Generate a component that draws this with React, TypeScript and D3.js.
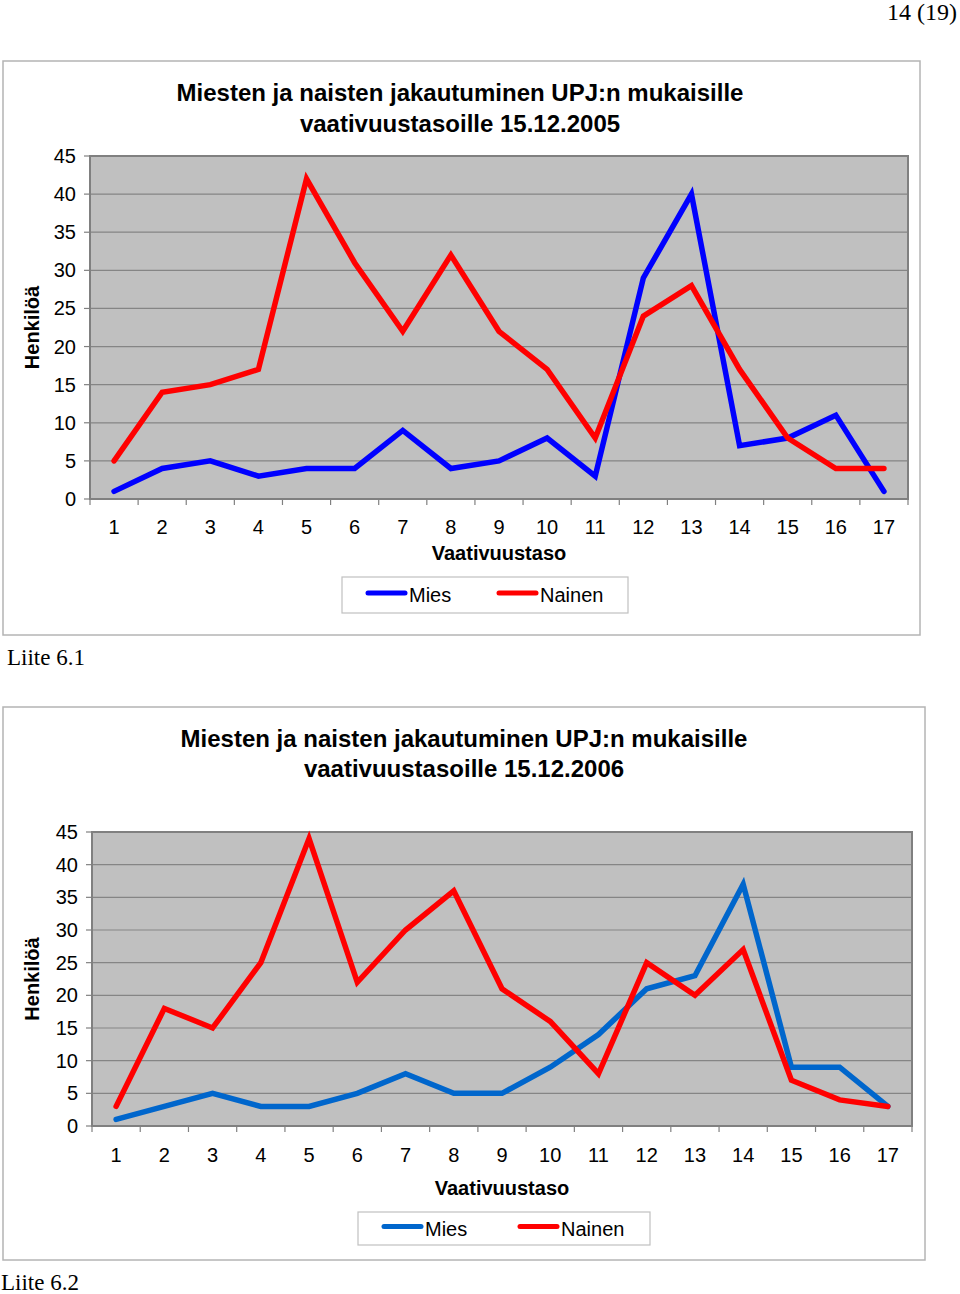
import React from "react";
import * as d3 from "d3";

// vaativuustasot 1..17
const levels = ["1", "2", "3", "4", "5", "6", "7", "8", "9", "10", "11", "12", "13", "14", "15", "16", "17"];
const yTicks = [0, 5, 10, 15, 20, 25, 30, 35, 40, 45];
const seriesNames = ["Mies", "Nainen"];

const mies2005 = [1, 4, 5, 3, 4, 4, 9, 4, 5, 8, 3, 29, 40, 7, 8, 11, 1];
const nainen2005 = [5, 14, 15, 17, 42, 31, 22, 32, 22, 17, 8, 24, 28, 17, 8, 4, 4];

const mies2006 = [1, 3, 5, 3, 3, 5, 8, 5, 5, 9, 14, 21, 23, 37, 9, 9, 3];
const nainen2006 = [3, 18, 15, 25, 44, 22, 30, 36, 21, 16, 8, 25, 20, 27, 7, 4, 3];

const titleLines2005 = ["Miesten ja naisten jakautuminen UPJ:n mukaisille", "vaativuustasoille 15.12.2005"];
const titleLines2006 = ["Miesten ja naisten jakautuminen UPJ:n mukaisille", "vaativuustasoille 15.12.2006"];

const font = "'Liberation Sans', Arial, sans-serif";
const serif = "'Liberation Serif', 'Times New Roman', serif";

type Layout = {
  frame: { x: number; y: number; w: number; h: number };
  plot: { left: number; right: number; top: number; bottom: number };
  titleX: number;
  titleY: number[];
  tickY: number;
  axisTitleY: number;
  legend: { x: number; y: number; w: number; h: number; nainenX: number };
  miesColor: string;
};

const LineChart = ({ mies, nainen, title, layout }: { mies: number[]; nainen: number[]; title: string[]; layout: Layout }) => {
  const { frame, plot, legend } = layout;
  const x = d3.scaleBand().domain(levels).range([plot.left, plot.right]);
  const y = d3.scaleLinear().domain([0, 45]).range([plot.bottom, plot.top]);
  const cx = (i: number) => (x(levels[i]) as number) + x.bandwidth() / 2;
  const line = d3
    .line<number>()
    .x((_, i) => cx(i))
    .y((d) => y(d));
  const colors = [layout.miesColor, "#ff0000"];
  const ly = legend.y + legend.h / 2;

  return (
    <g>
      <rect x={frame.x} y={frame.y} width={frame.w} height={frame.h} fill="#fff" stroke="#b4b4b4" strokeWidth={1.5} />
      {title.map((t, i) => (
        <text key={i} x={layout.titleX} y={layout.titleY[i]} textAnchor="middle" dominantBaseline="central" fontFamily={font} fontWeight="bold" fontSize={24}>
          {t}
        </text>
      ))}
      <rect x={plot.left} y={plot.top} width={plot.right - plot.left} height={plot.bottom - plot.top} fill="#c0c0c0" />
      {yTicks.map((t) => (
        <g key={t}>
          {t > 0 && t < 45 && <line x1={plot.left} x2={plot.right} y1={y(t)} y2={y(t)} stroke="#858585" strokeWidth={1.2} />}
          <line x1={plot.left - 6} x2={plot.left} y1={y(t)} y2={y(t)} stroke="#808080" strokeWidth={1.2} />
          <text x={plot.left - 14} y={y(t)} textAnchor="end" dominantBaseline="central" fontFamily={font} fontSize={20}>
            {t}
          </text>
        </g>
      ))}
      <rect x={plot.left} y={plot.top} width={plot.right - plot.left} height={plot.bottom - plot.top} fill="none" stroke="#808080" strokeWidth={2} />
      {levels.map((l, i) => (
        <g key={l}>
          <line x1={x(l) as number} x2={x(l) as number} y1={plot.bottom} y2={plot.bottom + 6} stroke="#808080" strokeWidth={1.2} />
          <text x={cx(i)} y={layout.tickY} textAnchor="middle" dominantBaseline="central" fontFamily={font} fontSize={20}>
            {l}
          </text>
        </g>
      ))}
      <line x1={plot.right} x2={plot.right} y1={plot.bottom} y2={plot.bottom + 6} stroke="#808080" strokeWidth={1.2} />
      <text x={(plot.left + plot.right) / 2} y={layout.axisTitleY} textAnchor="middle" dominantBaseline="central" fontFamily={font} fontWeight="bold" fontSize={20}>
        Vaativuustaso
      </text>
      <text
        transform={`translate(32,${(plot.top + plot.bottom) / 2}) rotate(-90)`}
        textAnchor="middle"
        dominantBaseline="central"
        fontFamily={font}
        fontWeight="bold"
        fontSize={20}
      >
        Henkilöä
      </text>
      {[mies, nainen].map((s, k) => (
        <path key={k} d={line(s) as string} fill="none" stroke={colors[k]} strokeWidth={5.5} strokeLinejoin="miter" strokeLinecap="round" />
      ))}
      <rect x={legend.x} y={legend.y} width={legend.w} height={legend.h} fill="#fff" stroke="#c0c0c0" strokeWidth={1.2} />
      {seriesNames.map((n, k) => {
        const lx = k === 0 ? legend.x + 26 : legend.nainenX;
        return (
          <g key={n}>
            <line x1={lx} x2={lx + 37} y1={ly - 2} y2={ly - 2} stroke={colors[k]} strokeWidth={5} strokeLinecap="round" />
            <text x={lx + 41} y={ly} dominantBaseline="central" fontFamily={font} fontSize={20}>
              {n}
            </text>
          </g>
        );
      })}
    </g>
  );
};

const layout2005: Layout = {
  frame: { x: 3, y: 61, w: 917, h: 574 },
  plot: { left: 90, right: 908, top: 156, bottom: 499 },
  titleX: 460,
  titleY: [92, 123],
  tickY: 527,
  axisTitleY: 553,
  legend: { x: 342, y: 577, w: 286, h: 36, nainenX: 499 },
  miesColor: "#0000ff",
};

const layout2006: Layout = {
  frame: { x: 3, y: 707, w: 922, h: 553 },
  plot: { left: 92, right: 912, top: 832, bottom: 1126 },
  titleX: 464,
  titleY: [738, 768],
  tickY: 1155,
  axisTitleY: 1188,
  legend: { x: 358, y: 1212, w: 292, h: 33, nainenX: 520 },
  miesColor: "#0066cc",
};

export default function App() {
  return (
    <div style={{ position: "absolute", left: 0, top: 0 }}>
      <svg width={960} height={1294} style={{ display: "block", background: "#fff" }}>
        <text x={957} y={20} textAnchor="end" fontFamily={serif} fontSize={24}>
          14 (19)
        </text>
        <LineChart mies={mies2005} nainen={nainen2005} title={titleLines2005} layout={layout2005} />
        <text x={7} y={665} fontFamily={serif} fontSize={23}>
          Liite 6.1
        </text>
        <LineChart mies={mies2006} nainen={nainen2006} title={titleLines2006} layout={layout2006} />
        <text x={1} y={1290} fontFamily={serif} fontSize={23}>
          Liite 6.2
        </text>
      </svg>
    </div>
  );
}
